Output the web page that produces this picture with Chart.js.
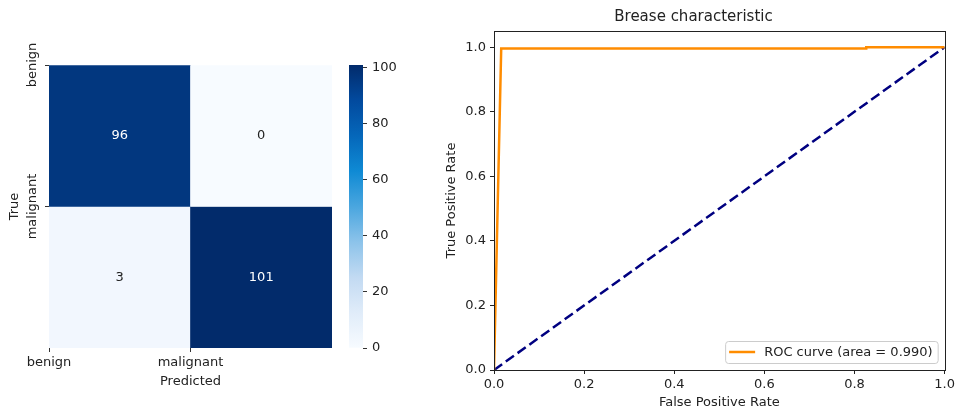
<!DOCTYPE html>
<html lang="en">
<head>
<meta charset="UTF-8" />
<title>Confusion matrix and ROC curve</title>
<script src="https://cdn.jsdelivr.net/npm/chart.js"></script>
<style>
  body { margin: 0; background: #fff; }
  .wrap { position: relative; width: 958px; height: 411px; }
  .wrap canvas { position: absolute; top: 0; }
  #cmChart { left: 0; }
  #cbarChart { left: 340px; }
  #rocChart { left: 440px; }
</style>
</head>
<body>
<div class="wrap">
  <canvas id="cmChart" width="440" height="411"></canvas>
  <canvas id="cbarChart" width="100" height="411"></canvas>
  <canvas id="rocChart" width="518" height="411"></canvas>
</div>

<script>
// confusion matrix: rows = true class, columns = predicted class
const classNames = ['benign', 'malignant'];
const rowBenign = [96, 0];
const rowMalignant = [3, 101];
const colorbarTicks = [0, 20, 40, 60, 80, 100];

// ROC curve points
const rocFpr = [0, 0.016, 0.826, 0.826, 1];
const rocTpr = [0, 0.996, 0.996, 1, 1];
const chanceFpr = [0, 1];
const chanceTpr = [0, 1];
const rocArea = 0.990;
const rateTicks = [0, 0.2, 0.4, 0.6, 0.8, 1.0];

const TEXT = '#222';
const FONT = 'DejaVu Sans';
const FS = 13;
Chart.defaults.font.family = FONT;
Chart.defaults.color = TEXT;

// "Blues"-like colour ramp
const blueStops = [
  [0, '#f7fbff'], [0.125, '#e0ecf9'], [0.25, '#c2daf2'], [0.375, '#8cc3ea'],
  [0.5, '#4aa6df'], [0.625, '#0f8ad4'], [0.75, '#0567ba'], [0.875, '#024a9e'], [1, '#022b6b']
];
function hexRgb(h) {
  return [1, 3, 5].map(i => parseInt(h.slice(i, i + 2), 16));
}
function blues(t) {
  t = Math.max(0, Math.min(1, t));
  for (let i = 1; i < blueStops.length; i++) {
    const [t1, c1] = blueStops[i];
    if (t <= t1) {
      const [t0, c0] = blueStops[i - 1];
      const f = (t - t0) / (t1 - t0);
      const a = hexRgb(c0), b = hexRgb(c1);
      const rgb = a.map((v, k) => Math.round(v + (b[k] - v) * f));
      return `rgb(${rgb[0]},${rgb[1]},${rgb[2]})`;
    }
  }
  return blueStops[blueStops.length - 1][1];
}

const rows = [rowBenign, rowMalignant];
const vmax = Math.max(...rows.flat());

// ---------- heatmap ----------
const cellLabels = {
  id: 'cellLabels',
  afterDatasetsDraw(chart) {
    const ctx = chart.ctx;
    ctx.save();
    ctx.font = `${FS}px "${FONT}"`;
    ctx.textAlign = 'center';
    ctx.textBaseline = 'middle';
    chart.data.datasets.forEach((ds, di) => {
      chart.getDatasetMeta(di).data.forEach((bar, j) => {
        const v = ds.data[j].v;
        ctx.fillStyle = v / vmax > 0.5 ? '#fff' : TEXT;
        ctx.fillText(String(v), bar.x, (bar.y + bar.base) / 2);
      });
    });
    // y tick labels, rotated like the axis title
    const ys = chart.scales.y;
    ctx.fillStyle = TEXT;
    classNames.forEach((name, i) => {
      ctx.save();
      ctx.translate(33, ys.getPixelForValue(i));
      ctx.rotate(-Math.PI / 2);
      ctx.fillText(name, 0, 0);
      ctx.restore();
    });
    ctx.restore();
  }
};

new Chart(document.getElementById('cmChart'), {
  type: 'bar',
  data: {
    datasets: rows.map((row, i) => ({
      data: row.map((v, j) => ({ x: j + 0.5, y: [i, i + 1], v })),
      backgroundColor: row.map(v => blues(v / vmax)),
      borderWidth: 0
    }))
  },
  options: {
    responsive: false,
    animation: false,
    devicePixelRatio: 1,
    layout: { padding: { left: 0, top: 65, right: 108, bottom: 0 } },
    datasets: { bar: { grouped: false, barPercentage: 1, categoryPercentage: 1 } },
    plugins: { legend: { display: false }, tooltip: { enabled: false } },
    scales: {
      x: {
        type: 'linear', min: 0, max: 2, offset: false,
        afterBuildTicks: s => { s.ticks = classNames.map((_, i) => ({ value: i })); },
        afterFit: s => { s.height = 63; },
        grid: { offset: false, drawOnChartArea: false, tickLength: 4, color: '#333' },
        border: { display: false },
        ticks: { callback: v => classNames[v], font: { size: FS }, padding: 3, maxRotation: 0 },
        title: { display: true, text: 'Predicted', font: { size: FS }, padding: { top: 0, bottom: 22 } }
      },
      y: {
        type: 'linear', min: 0, max: 2, reverse: true,
        afterBuildTicks: s => { s.ticks = classNames.map((_, i) => ({ value: i })); },
        afterFit: s => { s.width = 49; },
        grid: { drawOnChartArea: false, tickLength: 4, color: '#333' },
        border: { display: false },
        ticks: { display: false },
        title: { display: true, text: 'True', font: { size: FS }, padding: { top: 7, bottom: 0 } }
      }
    }
  },
  plugins: [cellLabels]
});

// ---------- colour bar ----------
function barGradient(c) {
  const { ctx, chartArea } = c.chart;
  if (!chartArea) return null;
  const g = ctx.createLinearGradient(0, chartArea.bottom, 0, chartArea.top);
  blueStops.forEach(([t, col]) => g.addColorStop(t, col));
  return g;
}

new Chart(document.getElementById('cbarChart'), {
  type: 'bar',
  data: {
    labels: [''],
    datasets: [{ data: [[0, vmax]], backgroundColor: barGradient, borderWidth: 0,
                 barPercentage: 1, categoryPercentage: 1 }]
  },
  options: {
    responsive: false,
    animation: false,
    devicePixelRatio: 1,
    layout: { padding: { left: 9, top: 65, right: 0, bottom: 63 } },
    plugins: { legend: { display: false }, tooltip: { enabled: false } },
    scales: {
      x: { display: false },
      y: {
        position: 'right', min: 0, max: vmax,
        afterBuildTicks: s => { s.ticks = colorbarTicks.map(v => ({ value: v })); },
        afterFit: s => { s.width = 77; },
        grid: { drawOnChartArea: false, tickLength: 4, color: '#333' },
        border: { display: false },
        ticks: { font: { size: FS }, padding: 5 }
      }
    }
  }
});

// ---------- ROC curve ----------
const frame = {
  id: 'frame',
  afterDatasetsDraw(chart) {
    const { ctx, chartArea: a } = chart;
    ctx.save();
    ctx.strokeStyle = '#222';
    ctx.lineWidth = 1;
    ctx.strokeRect(Math.round(a.left) + 0.5, Math.round(a.top) + 0.5,
                   Math.round(a.right - a.left), Math.round(a.bottom - a.top));
    ctx.restore();
  }
};

const legendBox = {
  id: 'legendBox',
  afterDraw(chart) {
    const { ctx, chartArea: a } = chart;
    const ds = chart.data.datasets[0];
    ctx.save();
    ctx.font = `${FS}px "${FONT}"`;
    const tw = ctx.measureText(ds.label).width;
    const w = 4 + 26 + 9 + tw + 5, h = 22;
    const x = a.right - 7 - w, y = a.bottom - 7 - h;
    ctx.beginPath();
    ctx.roundRect(x + 0.5, y + 0.5, w, h, 3);
    ctx.fillStyle = 'rgba(255,255,255,0.8)';
    ctx.fill();
    ctx.strokeStyle = '#ccc';
    ctx.lineWidth = 1;
    ctx.stroke();
    ctx.beginPath();
    ctx.moveTo(x + 4, y + h / 2);
    ctx.lineTo(x + 30, y + h / 2);
    ctx.strokeStyle = ds.borderColor;
    ctx.lineWidth = ds.borderWidth;
    ctx.stroke();
    ctx.fillStyle = TEXT;
    ctx.textBaseline = 'middle';
    ctx.fillText(ds.label, x + 39, y + h / 2 + 0.5);
    ctx.restore();
  }
};

new Chart(document.getElementById('rocChart'), {
  type: 'scatter',
  data: {
    datasets: [
      {
        label: `ROC curve (area = ${rocArea.toFixed(3)})`,
        data: rocFpr.map((x, i) => ({ x, y: rocTpr[i] })),
        showLine: true, borderColor: '#ff8c00', borderWidth: 2.5,
        pointRadius: 0, fill: false
      },
      {
        label: 'chance',
        data: chanceFpr.map((x, i) => ({ x, y: chanceTpr[i] })),
        showLine: true, borderColor: '#000080', borderWidth: 2.5,
        borderDash: [10, 4.5], pointRadius: 0, fill: false
      }
    ]
  },
  options: {
    responsive: false,
    animation: false,
    devicePixelRatio: 1,
    layout: { padding: { left: 0, top: 0, right: 11, bottom: 0 } },
    plugins: {
      legend: { display: false },
      tooltip: { enabled: false },
      title: {
        display: true, text: 'Brease characteristic', color: TEXT,
        font: { size: 15, weight: 'normal' }, padding: { top: 8, bottom: 5 }
      }
    },
    scales: {
      x: {
        type: 'linear', min: 0, max: 1,
        afterBuildTicks: s => { s.ticks = rateTicks.map(v => ({ value: v })); },
        afterFit: s => { s.height = 41; },
        grid: { drawOnChartArea: false, tickLength: 4, color: '#222' },
        border: { display: false },
        ticks: { callback: v => v.toFixed(1), font: { size: FS }, padding: 3, maxRotation: 0 },
        title: { display: true, text: 'False Positive Rate', font: { size: FS }, padding: { top: 0, bottom: 1 } }
      },
      y: {
        type: 'linear', min: 0, max: 1.05,
        afterBuildTicks: s => { s.ticks = rateTicks.map(v => ({ value: v })); },
        afterFit: s => { s.width = 54; },
        grid: { drawOnChartArea: false, tickLength: 4, color: '#222' },
        border: { display: false },
        ticks: { callback: v => v.toFixed(1), font: { size: FS }, padding: 4 },
        title: { display: true, text: 'True Positive Rate', font: { size: FS }, padding: { top: 4, bottom: 0 } }
      }
    }
  },
  plugins: [frame, legendBox]
});
</script>
</body>
</html>
